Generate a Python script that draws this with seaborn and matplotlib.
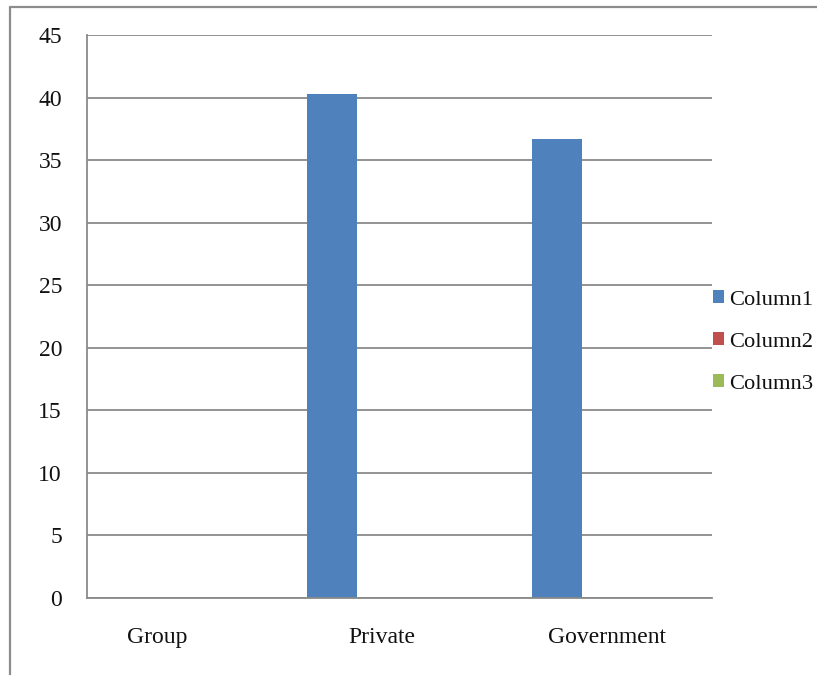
import matplotlib
matplotlib.use("Agg")
import matplotlib.pyplot as plt
import seaborn as sns
import pandas as pd
from matplotlib.patches import Rectangle
from matplotlib.lines import Line2D

categories = ["Group", "Private", "Government"]
series = ["Column1", "Column2", "Column3"]
column1 = [0, 40.3, 36.7]
column2 = [0, 0, 0]
column3 = [0, 0, 0]
colors = ["#4F81BD", "#C0504D", "#9BBB59"]
yticks = [0, 5, 10, 15, 20, 25, 30, 35, 40, 45]

rows = []
for s, vals in zip(series, [column1, column2, column3]):
    for c, v in zip(categories, vals):
        rows.append({"category": c, "series": s, "value": v})
df = pd.DataFrame(rows)

sns.set_theme(style="white")
plt.rcParams["font.family"] = ["Liberation Serif", "DejaVu Serif"]

W, H = 817, 675
fig = plt.figure(figsize=(W / 100, H / 100), dpi=100)
fig.patch.set_facecolor("white")

# outer chart border (left and top visible)
border = "#8c8c8c"
fig.add_artist(Line2D([10 / W, 10 / W], [0, 1 - 7 / H], transform=fig.transFigure, color=border, lw=1.6))
fig.add_artist(Line2D([10 / W, 1], [1 - 7 / H, 1 - 7 / H], transform=fig.transFigure, color=border, lw=1.6))

left, right, top, bottom = 87, 712, 35, 598
ax = fig.add_axes([left / W, 1 - bottom / H, (right - left) / W, (bottom - top) / H])

sns.barplot(data=df, x="category", y="value", hue="series", order=categories,
            hue_order=series, palette=colors, width=2 / 3, gap=0, saturation=1,
            linewidth=0, errorbar=None, ax=ax, legend=True)

grid = "#8a8a8a"
ax.set_ylim(0, 45)
ax.set_yticks(yticks)
ax.set_yticklabels([str(t) for t in yticks])
ax.yaxis.grid(True, color=grid, lw=1.3)
ax.set_axisbelow(True)
ax.set_xlim(-0.311, 2.467)
ax.set_xlabel("")
ax.set_ylabel("")

for sp in ["top", "right"]:
    ax.spines[sp].set_visible(False)
for sp in ["left", "bottom"]:
    ax.spines[sp].set_color(grid)
    ax.spines[sp].set_linewidth(1.3)

ax.set_xticks([-0.311, 0.5, 1.5])
ax.set_xticklabels(["", "", ""])
ax.set_xticks([0, 1, 2], minor=True)
ax.set_xticklabels(categories, minor=True)
ax.tick_params(axis="x", which="major", length=7, width=1.3, color=grid, direction="out")
ax.tick_params(axis="x", which="minor", length=0, pad=21, labelsize=17, labelcolor="#111111")
ax.tick_params(axis="y", length=7, width=1.3, color=grid, direction="out", pad=11,
               labelsize=17, labelcolor="#111111")

handles = [Rectangle((0, 0), 1, 1, facecolor=c, edgecolor="none") for c in colors]
ax.legend(handles, series, loc="center left", bbox_to_anchor=(713 / W, 1 - 342 / H),
          bbox_transform=fig.transFigure, frameon=False, fontsize=16.2,
          handlelength=0.5, handleheight=0.5, handletextpad=0.2,
          labelspacing=1.0, borderpad=0, borderaxespad=0, labelcolor="#111111")

fig.savefig("out.png", dpi=100)
